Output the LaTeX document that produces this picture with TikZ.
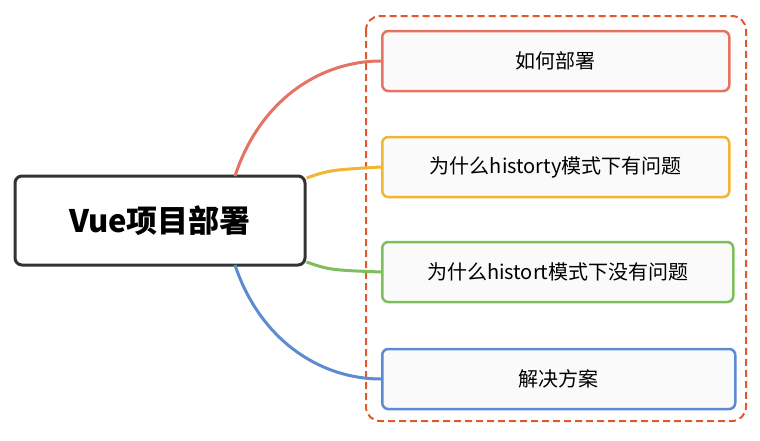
\documentclass[tikz,border=0pt]{standalone}
\usepackage{fontspec}
\setmainfont{Noto Sans CJK SC}
\usetikzlibrary{positioning}
\definecolor{cred}{HTML}{E57363}
\definecolor{cyellow}{HTML}{F2B632}
\definecolor{cgreen}{HTML}{7DBF5A}
\definecolor{cblue}{HTML}{5B8BD0}
\definecolor{cframe}{HTML}{E0592A}
\tikzset{
  topic/.style={draw=#1, line width=2.5pt, rounded corners=6pt, fill=black!2,
    minimum height=60pt, anchor=west, font=\fontsize{20}{24}\selectfont},
  link/.style={draw=#1, line width=3pt}
}
\begin{document}
\begin{tikzpicture}[x=1pt,y=-1pt]
  \useasboundingbox (0,0) rectangle (760,440);
  \draw[cframe, dash pattern=on 7pt off 4pt, line width=2pt, rounded corners=14pt] (366,16) rectangle (746,421);
  \node[draw=black!80, line width=3pt, rounded corners=7pt, minimum width=290pt,
    minimum height=89pt, font=\fontsize{31}{36}\selectfont\bfseries] (root) at (160,220.5) {Vue项目部署};
  \node[topic=cred, minimum width=347pt] (deploy) at (381,61) {如何部署};
  \node[topic=cyellow, minimum width=347pt] (why) at (381,167) {为什么historty模式下有问题};
  \node[topic=cgreen, minimum width=351pt] (whynot) at (381,272) {为什么histort模式下没有问题};
  \node[topic=cblue, minimum width=353pt] (fix) at (381,379) {解决方案};
  % connectors from the root node
  \coordinate (rtop) at (235,176);
  \coordinate (rbot) at (235,265);
  \draw[link=cred] (rtop) .. controls (260,100) and (320,61) .. (deploy.west);
  \draw[link=cyellow] (root.east |- 0,178) .. controls (330,170) .. (why.west);
  \draw[link=cgreen] (root.east |- 0,262) .. controls (330,270) .. (whynot.west);
  \draw[link=cblue] (rbot) .. controls (260,340) and (320,379) .. (fix.west);
\end{tikzpicture}
\end{document}
